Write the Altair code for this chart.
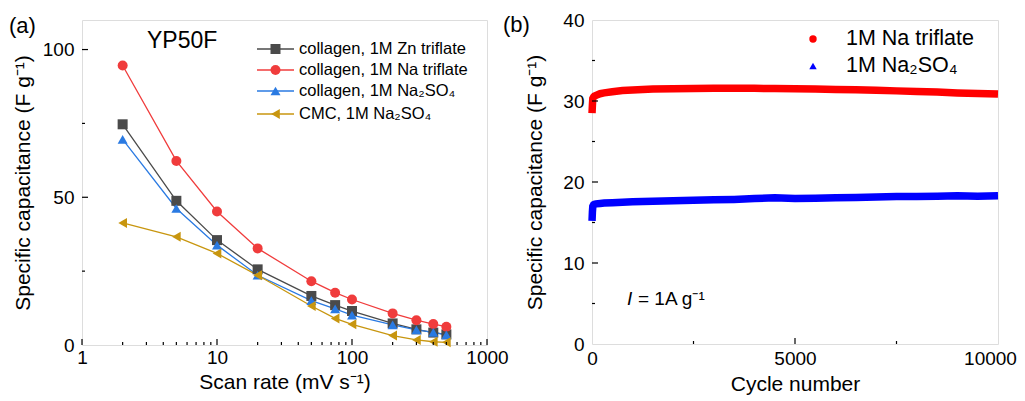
import altair as alt
import pandas as pd

# ---------- panel (a) data ----------
scan_rates = [2, 5, 10, 20, 50, 75, 100, 200, 300, 400, 500]
zn_triflate = [74.7, 48.8, 35.5, 25.6, 16.6, 13.5, 11.5, 7.3, 5.3, 4.2, 3.6]
na_triflate = [94.6, 62.3, 45.2, 32.7, 21.6, 17.7, 15.4, 10.7, 8.4, 7.1, 6.2]
col_na2so4 = [69.6, 46.2, 33.8, 23.6, 15.0, 12.2, 10.1, 6.8, 5.1, 4.3, 3.4]
cmc_na2so4 = [41.3, 36.6, 31.0, 23.6, 13.2, 9.0, 7.0, 3.2, 1.7, 1.1, 0.9]
series_a = ["collagen, 1M Zn triflate", "collagen, 1M Na triflate",
            "collagen, 1M Na\u2082SO\u2084", "CMC, 1M Na\u2082SO\u2084"]
colors_a = ["#4a4a4a", "#f03c3c", "#2a7ae2", "#c8960f"]
shapes_a = ["square", "circle", "triangle-up", "triangle-left"]

# ---------- panel (b) data ----------
cycles = [1, 10, 20, 40, 60, 100, 200, 300, 500, 750, 1000, 1250, 1500, 2000,
          2500, 3000, 3500, 4000, 4500, 5000, 5500, 6000, 6500, 7000, 7500,
          8000, 8500, 9000, 9500, 10000]
cyc_na_triflate = [28.5, 29.5, 30.3, 30.5, 30.6, 30.7, 30.9, 31.0, 31.15, 31.3,
                   31.35, 31.42, 31.48, 31.52, 31.55, 31.57, 31.57, 31.56, 31.55,
                   31.5, 31.47, 31.43, 31.38, 31.32, 31.25, 31.17, 31.1, 31.0,
                   30.93, 30.85]
cyc_na2so4 = [15.2, 16.3, 17.0, 17.2, 17.25, 17.3, 17.35, 17.4, 17.45, 17.5,
              17.55, 17.6, 17.62, 17.7, 17.75, 17.8, 17.85, 17.95, 18.05, 17.95,
              18.0, 18.05, 18.1, 18.15, 18.2, 18.2, 18.25, 18.3, 18.25, 18.3]
series_b = ["1M Na triflate", "1M Na\u2082SO\u2084"]
colors_b = ["#ff0000", "#0000ff"]
shapes_b = ["circle", "triangle-up"]

# tick lists
a_x_major = [1, 10, 100, 1000]
a_x_minor = [2, 3, 4, 5, 6, 7, 8, 9, 20, 30, 40, 50, 60, 70, 80, 90,
             200, 300, 400, 500, 600, 700, 800, 900]
a_y_major = [50, 100]
a_y_minor = [25, 75]
b_x_major = [5000]
b_x_minor = [2500, 7500]
b_y_major = [10, 20, 30]
b_y_minor = [5, 15, 25, 35]

FONT = "Liberation Sans"
WA, HA = 405, 325
WB, HB = 406, 324

rows = []
for name, vals in zip(series_a, [zn_triflate, na_triflate, col_na2so4, cmc_na2so4]):
    for x, y in zip(scan_rates, vals):
        rows.append({"x": x, "y": y, "s": name})
df_a = pd.DataFrame(rows)

rows = []
for name, vals in zip(series_b, [cyc_na_triflate, cyc_na2so4]):
    for x, y in zip(cycles, vals):
        rows.append({"x": x, "y": y, "s": name})
df_b = pd.DataFrame(rows)

one = pd.DataFrame({"k": [0]})

axis_kw = dict(grid=False, ticks=False, domain=False, labelFontSize=19,
               titleFontSize=21, titleFontWeight="normal", labelColor="black",
               titleColor="black", labelFont=FONT, titleFont=FONT,
               labelFlush=False, labelOverlap=False)


def tick_layers(xscale, yscale, xaxis, yaxis, xmaj, xmin, ymaj, ymin, H):
    layers = []
    for vals, ln in [(xmaj, 6), (xmin, 3)]:
        layers.append(alt.Chart(pd.DataFrame({"x": vals})).mark_rule(
            color="black", strokeWidth=1.2).encode(
            x=alt.X("x:Q", scale=xscale, axis=xaxis),
            y=alt.value(H), y2=alt.value(H - ln)))
    for vals, ln in [(ymaj, 6), (ymin, 3)]:
        layers.append(alt.Chart(pd.DataFrame({"y": vals})).mark_rule(
            color="black", strokeWidth=1.2).encode(
            y=alt.Y("y:Q", scale=yscale, axis=yaxis),
            x=alt.value(0), x2=alt.value(ln)))
    return layers


def text(t, x, y, size, italic=False, align="left"):
    return alt.Chart(one).mark_text(
        text=t, align=align, baseline="middle", fontSize=size, font=FONT,
        fontStyle="italic" if italic else "normal", color="black").encode(
        x=alt.value(x), y=alt.value(y))


# ---------- panel (a) ----------
xs_a = alt.Scale(type="log", domain=[1, 1000], nice=False)
ys_a = alt.Scale(domain=[0, 110], nice=False)
xax_a = alt.Axis(values=a_x_major, format="d", title="Scan rate (mV s\u207b\u00b9)",
                 labelPadding=3, titlePadding=4, **axis_kw)
yax_a = alt.Axis(values=[0, 50, 100], title="Specific capacitance (F g\u207b\u00b9)",
                 labelPadding=8, titlePadding=9, **axis_kw)
col_a = alt.Color("s:N", scale=alt.Scale(domain=series_a, range=colors_a), legend=None)
shp_a = alt.Shape("s:N", scale=alt.Scale(domain=series_a, range=shapes_a), legend=None)

lines_a = alt.Chart(df_a).mark_line(strokeWidth=1.3).encode(
    x=alt.X("x:Q", scale=xs_a, axis=xax_a), y=alt.Y("y:Q", scale=ys_a, axis=yax_a),
    color=col_a)
pts_a = alt.Chart(df_a).mark_point(filled=True, size=100, opacity=1).encode(
    x=alt.X("x:Q", scale=xs_a, axis=xax_a), y=alt.Y("y:Q", scale=ys_a, axis=yax_a),
    color=col_a, shape=shp_a)

leg_a = []
leg_ys = [29, 50, 71, 94]
for name, c, sh, ly in zip(series_a, colors_a, shapes_a, leg_ys):
    leg_a.append(alt.Chart(one).mark_rule(color=c, strokeWidth=1.3).encode(
        x=alt.value(175), x2=alt.value(212), y=alt.value(ly)))
    leg_a.append(alt.Chart(one).mark_point(filled=True, size=100, opacity=1,
                                           color=c, shape=sh).encode(
        x=alt.value(193.5), y=alt.value(ly)))
    leg_a.append(text(name, 217, ly, 16.5))

panel_a = alt.layer(
    lines_a, pts_a,
    *tick_layers(xs_a, ys_a, xax_a, yax_a, a_x_major, a_x_minor, a_y_major, a_y_minor, HA),
    *leg_a,
    text("YP50F", 65, 21, 23),
    text("(a)", -73, 6, 22),
).properties(width=WA, height=HA)

# ---------- panel (b) ----------
xs_b = alt.Scale(domain=[0, 10000], nice=False)
ys_b = alt.Scale(domain=[0, 40], nice=False)
xax_b = alt.Axis(values=[0, 5000, 10000], format="d", title="Cycle number",
                 labelPadding=5, titlePadding=5,
                 **{**axis_kw,
                    "labelOffset": {"condition": {"test": "datum.value === 10000",
                                                  "value": -8}, "value": 0}})
yax_b = alt.Axis(values=[0, 10, 20, 30, 40], title="Specific capacitance (F g\u207b\u00b9)",
                 labelPadding=8, titlePadding=17, **axis_kw)
col_b = alt.Color("s:N", scale=alt.Scale(domain=series_b, range=colors_b), legend=None)

band_b = alt.Chart(df_b).mark_line(strokeWidth=7.5, strokeCap="butt").encode(
    x=alt.X("x:Q", scale=xs_b, axis=xax_b), y=alt.Y("y:Q", scale=ys_b, axis=yax_b),
    color=col_b)

leg_b = []
for name, c, sh, ly in zip(series_b, colors_b, shapes_b, [19, 46]):
    leg_b.append(alt.Chart(one).mark_point(filled=True, size=55, opacity=1,
                                           color=c, shape=sh).encode(
        x=alt.value(221), y=alt.value(ly)))
    leg_b.append(text(name, 254, ly, 21.5))

panel_b = alt.layer(
    band_b,
    *tick_layers(xs_b, ys_b, xax_b, yax_b, b_x_major, b_x_minor, b_y_major, b_y_minor, HB),
    *leg_b,
    text("I", 35, 279, 19, italic=True),
    text("= 1A g\u207b\u00b9", 46, 279, 19),
    text("(b)", -89, 5, 22),
).properties(width=WB, height=HB)

chart = alt.hconcat(panel_a, panel_b, spacing=105, bounds="flush").resolve_scale(
    color="independent", shape="independent"
).properties(
    padding={"left": 0, "top": 2, "right": 0, "bottom": 0}
).configure_view(stroke="black", strokeWidth=1.5).configure(font=FONT)

chart.save("out.html", embed_options={"renderer": "svg", "actions": False})
